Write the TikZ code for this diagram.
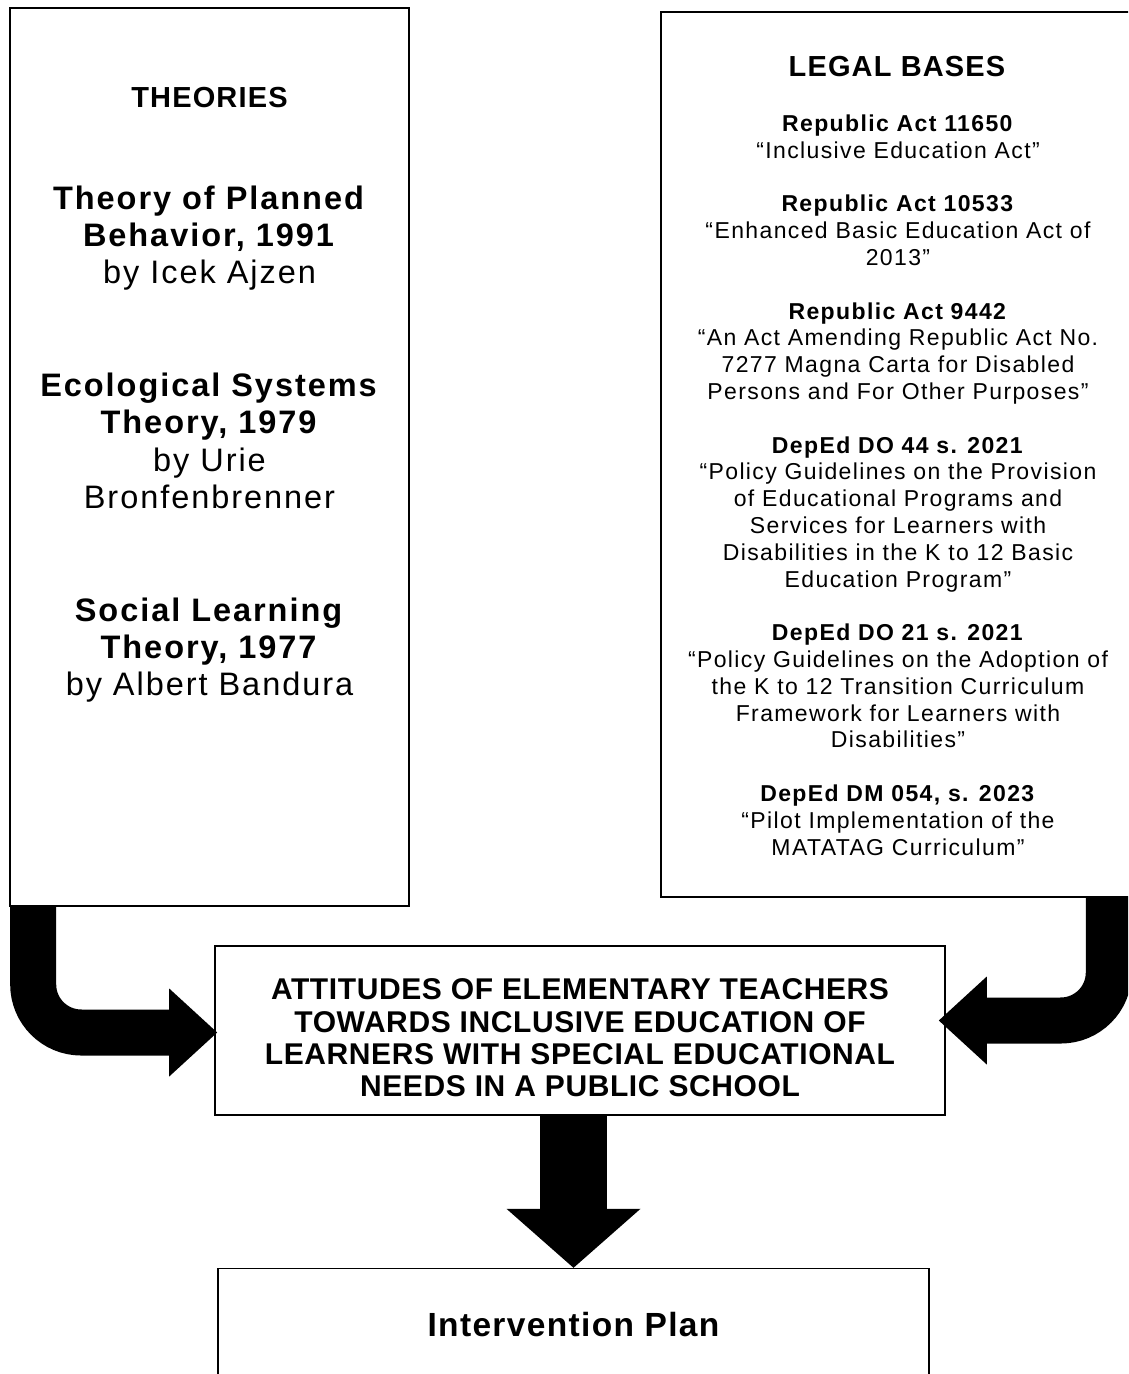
\documentclass[tikz,border=0pt]{standalone}
\usepackage{fontspec}
\setmainfont{Liberation Sans}
\newfontfamily\wideface[LetterSpace=6]{Liberation Sans}
\newfontfamily\headface[LetterSpace=4]{Liberation Sans}
\newfontfamily\midface[LetterSpace=2]{Liberation Sans}
\usetikzlibrary{positioning,arrows.meta,calc}
\tikzset{
  panel/.style={rectangle, draw=black, line width=1.6pt, inner sep=0pt},
  heading/.style={align=center, font=\headface\bfseries\fontsize{29}{33}\selectfont},
  theory/.style={align=center, font=\wideface\fontsize{32.5}{37.3}\selectfont},
  law/.style={align=center, font=\wideface\fontsize{23}{26.8}\selectfont},
  bigarrow/.style={draw=black, line width=46pt, rounded corners=48pt,
    -{Triangle[length=48pt,width=88pt,line width=0pt]}},
}

\begin{document}
\begin{tikzpicture}[x=1pt, y=-1pt]
  \useasboundingbox (0,0) rectangle (1128,1374);
  \clip (0,0) rectangle (1128,1374);
  \node[panel, minimum width=399pt, minimum height=898pt] (theories) at (209.5,457) {};
  \node[panel, minimum width=490pt, minimum height=885pt] (legal) at (906,454.5) {};
  \node[panel, minimum width=730pt, minimum height=169pt, align=center,
    font=\midface\bfseries\fontsize{30}{32.3}\selectfont] (attitudes) at (580,1030.5)
    {\rule{0pt}{36pt}ATTITUDES OF ELEMENTARY TEACHERS\\TOWARDS INCLUSIVE EDUCATION OF\\LEARNERS WITH SPECIAL EDUCATIONAL\\NEEDS IN A PUBLIC SCHOOL};
  \node[panel, minimum width=711pt, minimum height=112pt, below=152pt of attitudes, xshift=-6.5pt,
    font=\headface\bfseries\fontsize{33.5}{38}\selectfont] (plan) {Intervention Plan};

  \node[heading] (thhead) at (209.5,98) {THEORIES};
  \node[theory] (planned) at (209.5,238) {\textbf{Theory of Planned}\\\textbf{Behavior, 1991}\\by Icek Ajzen};
  \node[theory] (ecology) at (209.5,441) {\textbf{Ecological Systems}\\\textbf{Theory, 1979}\\by Urie\\Bronfenbrenner};
  \node[theory] (social) at (209.5,650) {\textbf{Social Learning}\\\textbf{Theory, 1977}\\by Albert Bandura};

  \node[heading] (lghead) at (897,67) {LEGAL BASES};
  \node[law] (laws) at (898,485) {\textbf{Republic Act 11650}\\“Inclusive Education Act”\\[26.8pt]
    \textbf{Republic Act 10533}\\“Enhanced Basic Education Act of\\2013”\\[26.8pt]
    \textbf{Republic Act 9442}\\“An Act Amending Republic Act No.\\7277 Magna Carta for Disabled\\Persons and For Other Purposes”\\[26.8pt]
    \textbf{DepEd DO 44 s. 2021}\\“Policy Guidelines on the Provision\\of Educational Programs and\\Services for Learners with\\Disabilities in the K to 12 Basic\\Education Program”\\[26.8pt]
    \textbf{DepEd DO 21 s. 2021}\\“Policy Guidelines on the Adoption of\\the K to 12 Transition Curriculum\\Framework for Learners with\\Disabilities”\\[26.8pt]
    \textbf{DepEd DM 054, s. 2023}\\“Pilot Implementation of the\\MATATAG Curriculum”};

  \draw[bigarrow] ([xshift=24pt]theories.south west) |- ([xshift=3pt,yshift=-2pt]attitudes.west);
  \draw[bigarrow] ([xshift=-43pt]legal.south east) |- ([xshift=-7pt,yshift=10pt]attitudes.east);
  \draw[bigarrow, line width=67pt, -{Triangle[length=59pt,width=134pt,line width=0pt]}]
    (attitudes.south -| plan.north) -- (plan.north);
\end{tikzpicture}
\end{document}
